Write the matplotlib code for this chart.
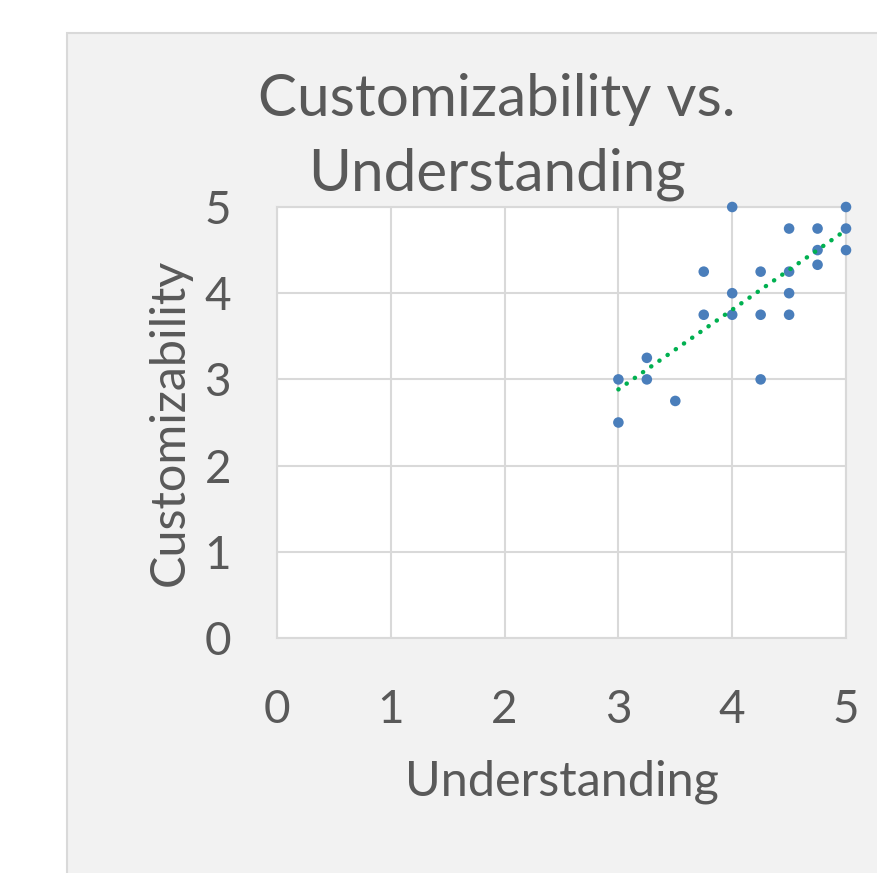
import matplotlib
matplotlib.use("Agg")
import matplotlib.pyplot as plt
import numpy as np
from matplotlib.patches import Rectangle

understanding = [3, 3, 3.25, 3.25, 3.5, 3.75, 3.75, 4, 4, 4, 4.25, 4.25, 4.25,
                 4.5, 4.5, 4.5, 4.5, 4.75, 4.75, 4.75, 5, 5, 5]
customizability = [3, 2.5, 3.25, 3, 2.75, 4.25, 3.75, 5, 4, 3.75, 4.25, 3.75, 3,
                   4.75, 4.25, 4, 3.75, 4.75, 4.5, 4.33, 5, 4.75, 4.5]
ticks = [0, 1, 2, 3, 4, 5]

plt.rcParams['font.family'] = ['Lato', 'DejaVu Sans']
txt = '#595959'
W, H = 877, 873
fig = plt.figure(figsize=(W / 100, H / 100), dpi=100, facecolor='white')

# chart area background
fig.patches.append(Rectangle((67 / W, -0.1), 1.2, 1 - 33 / H + 0.1,
                             transform=fig.transFigure, facecolor='#F2F2F2',
                             edgecolor='#D9D9D9', linewidth=1.5, zorder=-5))

ax = fig.add_axes([277 / W, 1 - 638 / H, (846 - 277) / W, (638 - 207) / H])
ax.set_zorder(2)
ax.set_facecolor('white')
ax.set_xlim(0, 5)
ax.set_ylim(0, 5)
ax.set_xticks(ticks)
ax.set_yticks(ticks)
ax.grid(True, color='#D9D9D9', linewidth=1.5)
ax.set_axisbelow(True)
for s in ax.spines.values():
    s.set_color('#D9D9D9')
    s.set_linewidth(1.5)
ax.tick_params(length=0, labelsize=33, labelcolor=txt)
ax.tick_params(axis='x', pad=37)
ax.tick_params(axis='y', pad=33)

ax.scatter(understanding, customizability, s=58, color='#4A7EBB', zorder=3,
           edgecolors='none', clip_on=False)

x = np.array(understanding)
y = np.array(customizability)
m, b = np.polyfit(x, y, 1)
xs = np.array([x.min(), x.max()])
ax.plot(xs, m * xs + b, color='#00B050', linestyle=(0, (0.05, 2.2)), linewidth=3.2,
        zorder=4, dash_capstyle='round', clip_on=False)

ax.set_xlabel('Understanding', fontsize=35, color=txt, labelpad=20)
ax.set_ylabel('Customizability', fontsize=35, color=txt, labelpad=9)

fig.text(497 / W, 1 - 137 / H, 'Customizability vs.\nUnderstanding', ha='center',
         va='center', fontsize=42, color=txt, linespacing=1.5, zorder=5)

fig.savefig('out.png', dpi=100, facecolor='white')
